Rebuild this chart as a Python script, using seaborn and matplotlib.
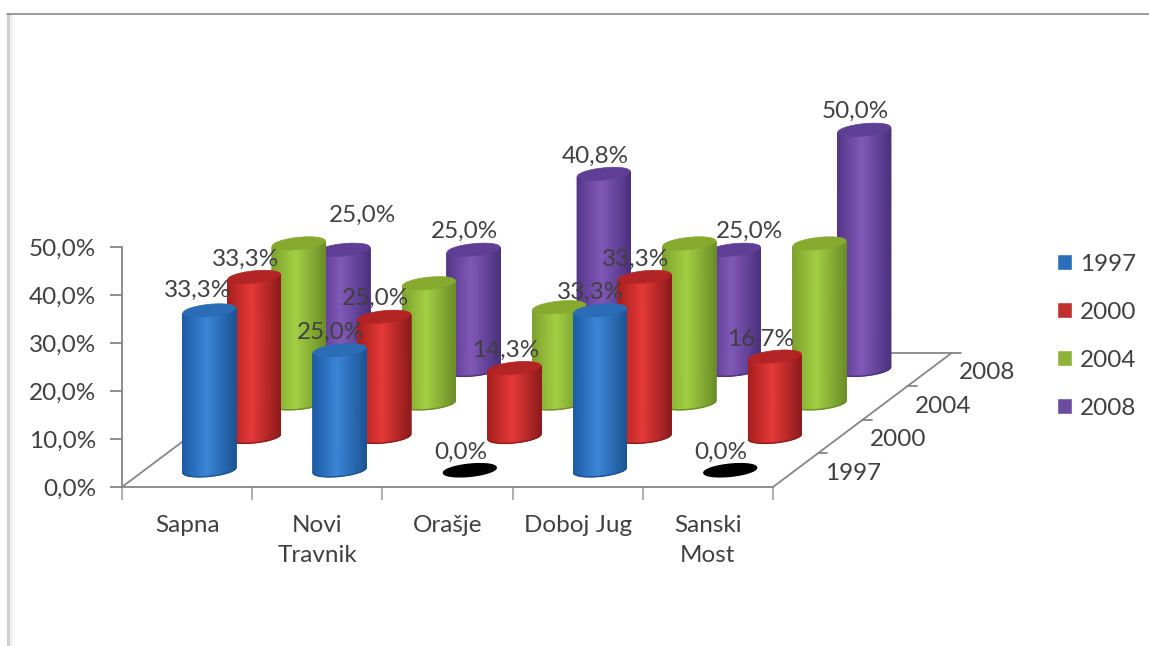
import numpy as np
import matplotlib
matplotlib.use('Agg')
import matplotlib.pyplot as plt
import seaborn as sns
from matplotlib.colors import LinearSegmentedColormap
from matplotlib.lines import Line2D
from matplotlib.patches import Patch, Rectangle
from matplotlib.ticker import FuncFormatter

CATEGORIES = ['Sapna', 'Novi\nTravnik', 'Orašje', 'Doboj Jug', 'Sanski\nMost']
YEARS = ['1997', '2000', '2004', '2008']

VALUES_1997 = [33.3, 25.0, 0.0, 33.3, 0.0]
VALUES_2000 = [33.3, 25.0, 14.3, 33.3, 16.7]
VALUES_2004 = [33.3, 25.0, 20.0, 33.3, 33.3]
VALUES_2008 = [25.0, 25.0, 40.8, 25.0, 50.0]

# left edge, middle, right edge, top cap, legend
COLORS = [
    ['#1d5da6', '#3c86d8', '#1c5596', '#2a6cb5', '#2a6db8'],
    ['#a81f1f', '#e53a38', '#8f1c1c', '#b32424', '#c0302c'],
    ['#7fa32f', '#a2d044', '#6d8f28', '#86aa2e', '#8fb23a'],
    ['#55378a', '#8259b8', '#4d3280', '#5f3f95', '#6b4a9f'],
]
# data labels are left out for the 2004 series, like in the original
SHOW_LABELS = [True, True, False, True]
# pixels, (series, category) -> label offset where it is not the usual one
LABEL_NUDGE = {(3, 0): (19, 34), (3, 3): (15, 18), (0, 0): (-12, 20), (1, 4): (-14, 17)}

DX = 0.343   # one step in depth, in category units
DY = 6.98    # one step in depth, in percent units
RX = 0.203
RY = 1.27
TILT = 0.42

sns.set_style('white')
plt.rcParams['font.family'] = ['Lato', 'DejaVu Sans']
TEXT = '#404040'
AXIS = '#868686'
FS = 17.5

fig = plt.figure(figsize=(11.49, 6.46), dpi=100)
ax = fig.add_axes([122 / 1149, 1 - 487 / 646, 651 / 1149, 240 / 646])


def project(cat, depth, val):
    return cat + depth * DX, val + depth * DY


def ring(cx, cy, t):
    return cx + RX * np.cos(t), cy + RY * np.sin(t) + TILT * RY * np.cos(t)


def cylinder(cx, base, val, cols, z):
    if val == 0:
        x, y = ring(cx, base, np.linspace(0, 2 * np.pi, 60))
        ax.fill(x, y, color='black', zorder=z, clip_on=False)
        return
    t = np.linspace(np.pi, 2 * np.pi, 60)
    x, y = ring(cx, base, t)
    xs = np.vstack([x, x])
    ys = np.vstack([y, y + val])
    u = (x - x.min()) / (x.max() - x.min())
    cmap = LinearSegmentedColormap.from_list('c', [(0, cols[0]), (0.45, cols[1]), (1, cols[2])])
    ax.pcolormesh(xs, ys, np.vstack([u, u]), cmap=cmap, vmin=0, vmax=1, shading='gouraud',
                  zorder=z, clip_on=False)
    ax.plot(x, y, color=cols[2], lw=1, zorder=z, clip_on=False)
    xt, yt = ring(cx, base + val, np.linspace(0, 2 * np.pi, 60))
    ax.fill(xt, yt, color=cols[3], lw=0.5, zorder=z + 0.5, clip_on=False)


series = [VALUES_1997, VALUES_2000, VALUES_2004, VALUES_2008]

# floor edges
n_depth = len(YEARS)
n_cat = len(CATEGORIES)
ax.plot([0, n_depth * DX], [0, n_depth * DY], color=AXIS, lw=1.3, clip_on=False, zorder=1)
ax.plot([n_cat, n_cat + n_depth * DX], [0, n_depth * DY], color=AXIS, lw=1.3, clip_on=False, zorder=1)
for i in range(n_depth):
    x0, y0 = project(n_cat, i + 1, 0)
    ax.plot([x0, x0 + 0.075], [y0, y0], color=AXIS, lw=1.3, clip_on=False, zorder=1)
    lx, ly = project(n_cat, i + 0.5, 0)
    ax.annotate(YEARS[i], (lx, ly), xytext=(58, -3), textcoords='offset pixels', ha='center',
                va='center', color=TEXT, fontsize=FS, annotation_clip=False)
# back edge only shows behind the last column
x0, y0 = project(n_cat - 0.5, n_depth - 0.5, 0)
ax.plot([x0, n_cat + n_depth * DX], [n_depth * DY] * 2, color=AXIS, lw=1.3, clip_on=False, zorder=1)

for s in range(n_depth - 1, -1, -1):
    for c, val in enumerate(series[s]):
        cx, base = project(c + 0.5, s + 0.5, 0)
        cylinder(cx, base, val, COLORS[s], 10 + (n_depth - s) * 2)

for s in range(n_depth):
    if not SHOW_LABELS[s]:
        continue
    for c, val in enumerate(series[s]):
        cx, top = project(c + 0.5, s + 0.5, val)
        nudge = LABEL_NUDGE.get((s, c), (-9, 18))
        ax.annotate(f'{val:.1f}%'.replace('.', ','), (cx, top), xytext=nudge, textcoords='offset pixels',
                    ha='center', va='center', color=TEXT, fontsize=FS, zorder=30, annotation_clip=False)

ax.set_xlim(0, n_cat)
ax.set_ylim(0, 50)
ax.set_yticks(range(0, 51, 10))
ax.yaxis.set_major_formatter(FuncFormatter(lambda v, _: f'{v:.1f}%'.replace('.', ',')))
ax.set_xticks(range(n_cat + 1))
ax.set_xticklabels([])
ax.set_xticks(np.arange(n_cat) + 0.5, CATEGORIES, minor=True)
ax.tick_params(axis='x', which='major', length=9, width=1.3, color='#a8a8a8', bottom=True)
ax.tick_params(axis='x', which='minor', length=0, pad=20.5, labelsize=FS, labelcolor=TEXT)
ax.tick_params(axis='y', length=8.5, width=1.3, color=AXIS, left=True, pad=10, labelsize=FS, labelcolor=TEXT)
for lab in ax.get_xticklabels(minor=True):
    lab.set_linespacing(1.5)
sns.despine(ax=ax)
for side in ['left', 'bottom']:
    ax.spines[side].set_color(AXIS)
    ax.spines[side].set_linewidth(1.3)
ax.patch.set_alpha(0)

handles = [Patch(facecolor=COLORS[i][4], label=YEARS[i]) for i in range(n_depth)]
fig.legend(handles=handles, loc='upper left', bbox_to_anchor=(1052 / 1149, 1 - 249 / 646), frameon=False,
           fontsize=FS, labelcolor=TEXT, handlelength=0.62, handleheight=0.62, handletextpad=0.33,
           labelspacing=1.11, borderpad=0.2, borderaxespad=0)

# frame of the pasted picture
fig.add_artist(Rectangle((7 / 1149, 0), 3 / 1149, 1 - 13 / 646, transform=fig.transFigure, color='#cfcfcf', lw=0))
fig.add_artist(Rectangle((10 / 1149, 0), 3 / 1149, 1 - 13 / 646, transform=fig.transFigure, color='#f0f0f0', lw=0))
fig.add_artist(Line2D([7 / 1149, 1], [1 - 13.5 / 646] * 2, transform=fig.transFigure, color='#808080', lw=1.1))

fig.savefig('out.png', dpi=100)
